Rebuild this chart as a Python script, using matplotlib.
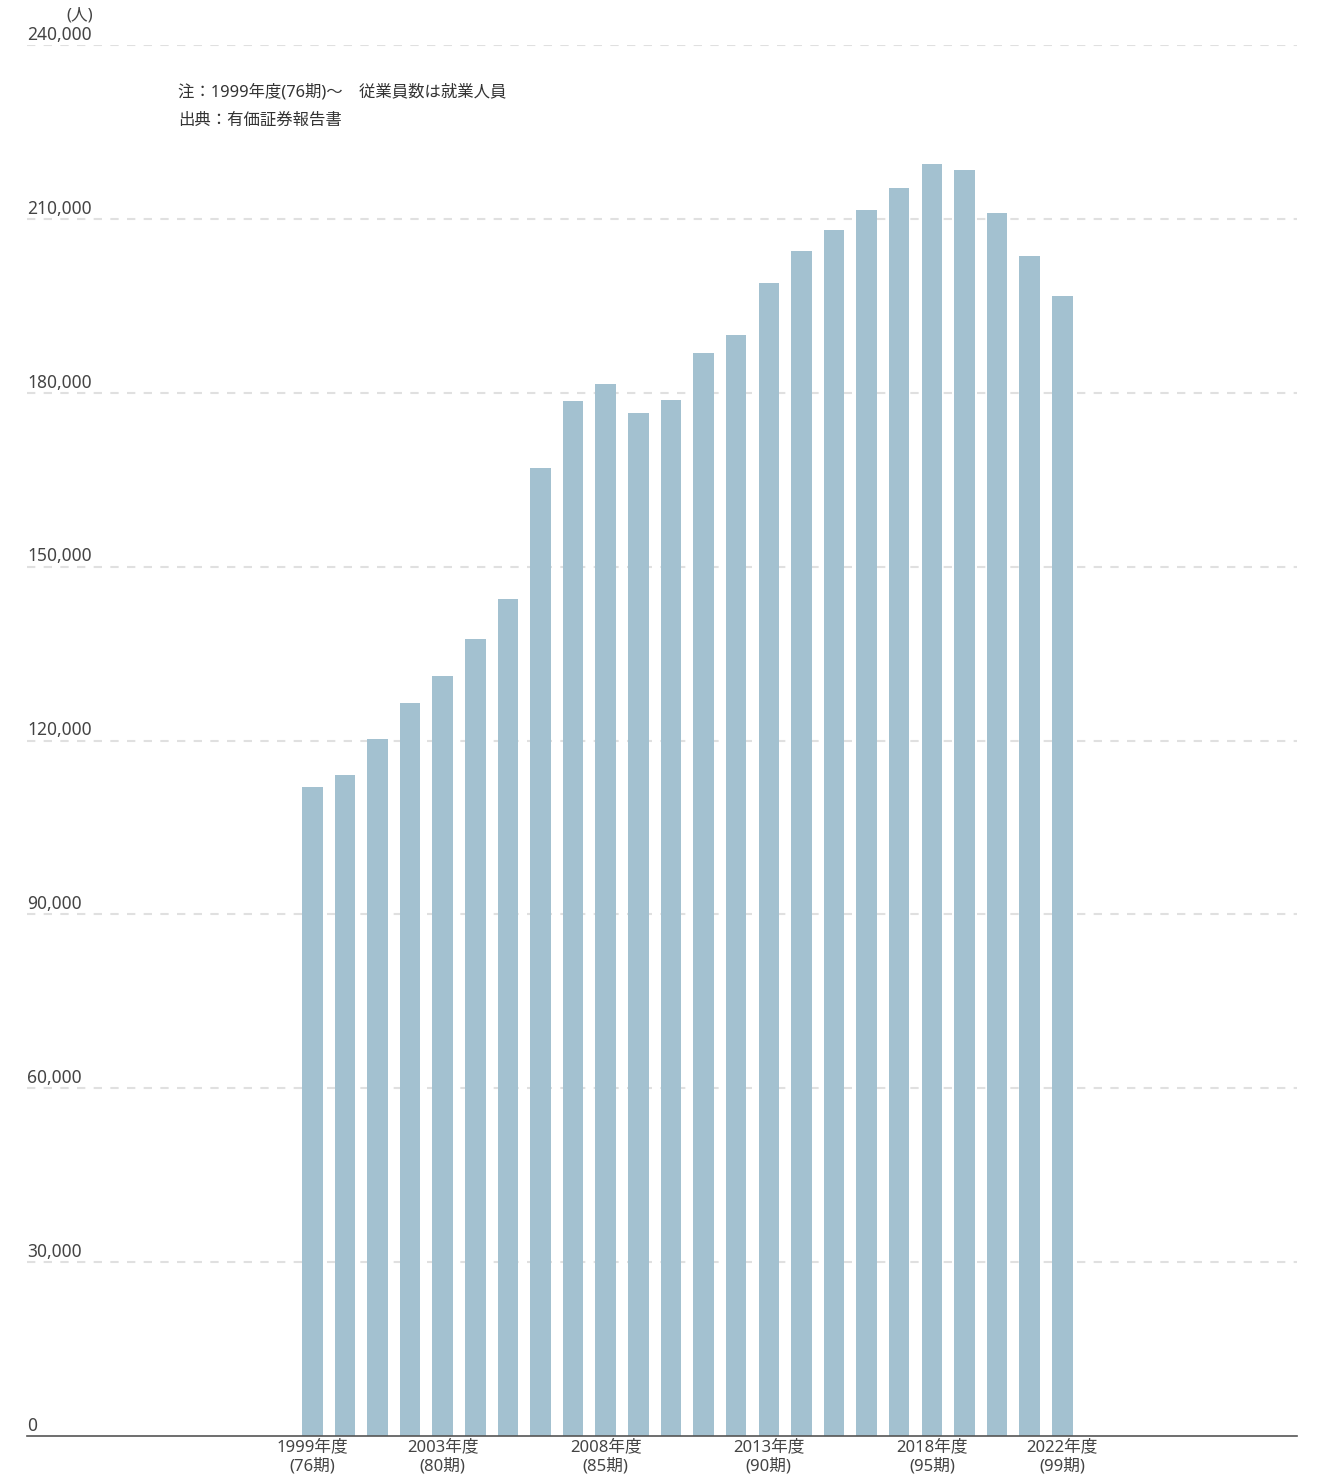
import numpy as np
import matplotlib.pyplot as plt
import matplotlib.transforms as mtransforms

plt.rcParams['font.family'] = ['Noto Sans', 'Noto Sans CJK JP', 'DejaVu Sans']

years = list(range(1999, 2023))
employees = [112000, 114000, 120300, 126500, 131100, 137500, 144400, 167000,
             178600, 181500, 176500, 178700, 186900, 190000, 198900, 204500,
             208100, 211500, 215300, 219500, 218400, 211000, 203600, 196700]
label_years = [1999, 2003, 2008, 2013, 2018, 2022]
label_terms = [76, 80, 85, 90, 95, 99]
yticks = [0, 30000, 60000, 90000, 120000, 150000, 180000, 210000, 240000]

W, H = 1328, 1479
fig = plt.figure(figsize=(W / 100, H / 100), dpi=100)
ax = fig.add_axes([27 / W, (H - 1436) / H, (1297 - 27) / W, (1436 - 45) / H])

x = np.arange(len(years))
ax.bar(x, employees, width=0.63, color='#a3c1d0', zorder=2)

# dashed grid lines
for v in yticks[1:]:
    ax.axhline(v, color='#e0e0e0', lw=1.5, ls=(0, (4, 4)), zorder=1)

ax.set_ylim(0, 240000)
ax.set_xlim(-8.75, 30.2)

for s in ['top', 'right', 'left']:
    ax.spines[s].set_visible(False)
ax.spines['bottom'].set_color('#555555')
ax.spines['bottom'].set_linewidth(1.2)
ax.set_yticks([])
ax.set_xticks([])

# y labels sitting above grid lines
trans = mtransforms.blended_transform_factory(ax.transAxes, ax.transData)
for v in yticks:
    ax.text(0, v + 200, f'{v:,}', transform=trans, ha='left', va='bottom',
            fontsize=12.5, color='#444444')

fig.text(93 / W, 1 - 16 / H, '(人)', ha='right', va='center',
         fontsize=12, color='#444444')

# x labels, two lines
for yr, t in zip(label_years, label_terms):
    i = years.index(yr)
    px = ax.transData.transform((i, 0))[0] / W
    fig.text(px, 1 - 1447 / H, f'{yr}年度', ha='center', va='center',
             fontsize=12, color='#444444')
    fig.text(px, 1 - 1466 / H, f'({t}期)', ha='center', va='center',
             fontsize=12, color='#444444')

fig.text(178 / W, 1 - 92 / H, '注：1999年度(76期)〜　従業員数は就業人員',
         ha='left', va='center', fontsize=11.8, color='#333333')
fig.text(178 / W, 1 - 121 / H, '出典：有価証券報告書',
         ha='left', va='center', fontsize=11.8, color='#333333')

fig.savefig('out.png', dpi=100)
